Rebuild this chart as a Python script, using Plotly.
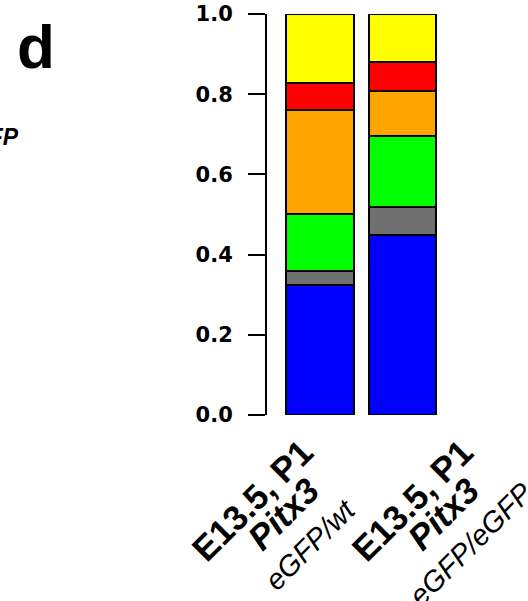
import plotly.graph_objects as go

# Stacked fractions per sample, bottom to top
samples = ["E13.5, P1 Pitx3 eGFP/wt", "E13.5, P1 Pitx3 eGFP/eGFP"]
label_top = ["E13.5, P1", "E13.5, P1"]
label_gene = ["Pitx3", "Pitx3"]
label_allele = ["eGFP/wt", "eGFP/eGFP"]

blue = [0.324, 0.449]
gray = [0.035, 0.070]
green = [0.142, 0.178]
orange = [0.260, 0.110]
red = [0.066, 0.073]
yellow = [0.173, 0.120]

tick_vals = [0.0, 0.2, 0.4, 0.6, 0.8, 1.0]

layers = [
    ("blue", blue, "#0000FF"),
    ("gray", gray, "#707070"),
    ("green", green, "#00FF00"),
    ("orange", orange, "#FFA500"),
    ("red", red, "#FF0000"),
    ("yellow", yellow, "#FFFF00"),
]

W, H = 528, 601
L, R, T, B = 267, 88, 14, 186
PW, PH = W - L - R, H - T - B

def px_x(x):
    return (x - L) / PW

def px_y(y):
    return 1 - (y - T) / PH

fig = go.Figure()
xpos = list(range(len(samples)))
for name, vals, col in layers:
    fig.add_trace(go.Bar(
        x=xpos, y=vals, name=name, width=0.82,
        marker=dict(color=col, line=dict(color="black", width=2.5)),
        cliponaxis=False, showlegend=False,
    ))

font_main = "Liberation Sans, Arial, sans-serif"

annotations = []

def rotated(text, cx, cy, size):
    return dict(
        text=text, x=px_x(cx), y=px_y(cy), xref="paper", yref="paper",
        xanchor="center", yanchor="middle", align="center",
        textangle=-45, showarrow=False,
        font=dict(family=font_main, size=size, color="black"),
    )

# rotated sample labels, one annotation per line (centres in pixels)
line_offsets = [(251.7, 500.0), (283.4, 513.3), (310.8, 544.1)]
label_shift = [0, 160]
for dx, a, g, s in zip(label_shift, label_top, label_gene, label_allele):
    (x1, y1), (x2, y2), (x3, y3) = line_offsets
    annotations.append(rotated(f"<b>{a}</b>", x1 + dx, y1, 35))
    annotations.append(rotated(f"<b><i>{g}</i></b>", x2 + dx, y2, 35))
    annotations.append(rotated(f"<i>{s}</i>", x3 + dx, y3, 29))

# panel letter
annotations.append(dict(
    text="<b>d</b>", x=px_x(15), y=px_y(46), xref="paper", yref="paper",
    xanchor="left", yanchor="middle", showarrow=False,
    font=dict(family=font_main, size=62, color="black"),
))
# neighbouring label fragment
annotations.append(dict(
    text="<b><i>eGFP</i></b>", x=px_x(21), y=px_y(137), xref="paper", yref="paper",
    xanchor="right", yanchor="middle", showarrow=False,
    font=dict(family=font_main, size=23, color="black"),
))

fig.update_layout(
    width=W, height=H,
    margin=dict(l=L, r=R, t=T, b=B, pad=0),
    barmode="stack", bargap=0,
    plot_bgcolor="white", paper_bgcolor="white",
    xaxis=dict(visible=False, range=[-0.642, 1.455], automargin=False),
    yaxis=dict(
        range=[0, 1], tickvals=tick_vals, tickformat=".1f", automargin=False,
        showgrid=False, zeroline=False,
        showline=True, linecolor="black", linewidth=2,
        ticks="outside", ticklen=17, tickwidth=2, tickcolor="black",
        ticklabelstandoff=11,
        tickfont=dict(family="DejaVu Sans, sans-serif", size=21, color="black", weight="bold"),
    ),
    annotations=annotations,
)

fig.write_html("out.html")
